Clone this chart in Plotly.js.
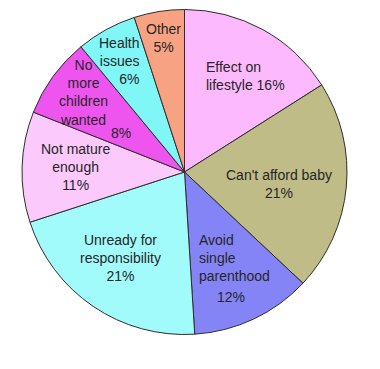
<!DOCTYPE html>
<html>
<head>
<meta charset="utf-8">
<script src="https://cdn.plot.ly/plotly-3.0.1.min.js"></script>
<style>html,body{margin:0;padding:0;background:#fff;}#chart{width:380px;height:369px;}</style>
</head>
<body>
<div id="chart"></div>
<script>
const categories = ["Effect on lifestyle", "Can't afford baby", "Avoid single parenthood", "Unready for responsibility", "Not mature enough", "No more children wanted", "Health issues", "Other"];
const values = [16, 21, 12, 21, 11, 8, 6, 5];
const nameTexts = ["Effect on<br>lifestyle 16%", "Can't afford baby<br>21%", "Avoid<br>single<br>parenthood", "Unready for<br>responsibility<br>21%", "Not mature<br>enough<br>11%", "No<br>more<br>children<br>wanted", "Health<br>issues<br>6%", "Other<br>5%"];
const pctTexts = [null, null, "12%", null, null, "8%", null, null];
const colors = ["#FDB9FD", "#BFBC88", "#8484F6", "#A2FBFB", "#FCC9FC", "#EE55EE", "#80F6F6", "#F8A284"];

// label placement (pixels in the 380x369 picture) and alignment
const namePos = [[204, 76, 'left'], [279, 184, 'center'], [197, 258, 'left'], [120, 258, 'center'], [75, 167, 'center'], [83, 93, 'center'], [141, 61, 'right'], [163, 38, 'center']];
const pctPos = [null, null, [231, 297, 'center'], null, null, [121, 133, 'center'], null, null];

const W = 380, H = 369;
const font = {family: 'Liberation Sans, Arial, sans-serif', size: 14, color: '#262626'};
const mk = (t, p) => ({
  xref: 'paper', yref: 'paper',
  x: p[0] / W, y: 1 - p[1] / H,
  xanchor: p[2], yanchor: 'middle', align: p[2],
  text: t, showarrow: false, font: font
});
const annotations = [];
nameTexts.forEach((t, i) => {
  annotations.push(mk(t, namePos[i]));
  if (pctTexts[i]) annotations.push(mk(pctTexts[i], pctPos[i]));
});

const trace = {
  type: 'pie',
  labels: categories,
  values: values,
  sort: false,
  direction: 'clockwise',
  rotation: 0,
  textinfo: 'none',
  hoverinfo: 'none',
  marker: {colors: colors, line: {color: '#2e2e2e', width: 1}},
  domain: {x: [22 / W, 347 / W], y: [1 - 337 / H, 1 - 7 / H]}
};

Plotly.newPlot('chart', [trace], {
  width: W, height: H,
  margin: {l: 0, r: 0, t: 0, b: 0},
  showlegend: false,
  paper_bgcolor: '#ffffff',
  annotations: annotations
}, {displayModeBar: false, staticPlot: true});
</script>
</body>
</html>
